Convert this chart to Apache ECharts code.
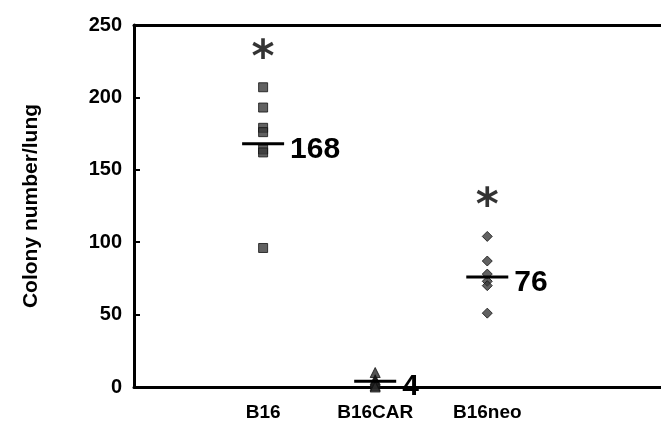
<!DOCTYPE html>
<html><head><meta charset="utf-8">
<script src="https://cdn.jsdelivr.net/npm/echarts@6/dist/echarts.min.js"></script>
<style>html,body{margin:0;padding:0;background:#fff}#c{width:661px;height:440px}</style>
</head><body><div id="c"></div>
<script>
const categories = ['B16', 'B16CAR', 'B16neo'];
const b16Values = [207, 193, 179, 176, 164, 162, 96];
const b16carValues = [10, 5, 4, 3, 1, 0];
const b16neoValues = [104, 87, 78, 73, 70, 51];
const medians = [168, 4, 76];
const starValues = [235, null, 133];
const yTicks = [0, 50, 100, 150, 200, 250];

const FONT = 'Liberation Sans, Arial, sans-serif';
const pts = (vals, idx) => vals.map(v => [idx + 1, v]);

const chart = echarts.init(document.getElementById('c'), null, {renderer: 'canvas'});
const xMin = -0.152, xMax = 4.55;
chart.setOption({
  animation: false,
  backgroundColor: '#fff',
  grid: {left: 134, right: 0, top: 25, bottom: 53, containLabel: false, outerBoundsMode: 'none'},
  xAxis: [{
    type: 'value', min: xMin, max: xMax, position: 'bottom',
    axisLine: {show: true, onZero: false, lineStyle: {color: '#000', width: 3}},
    axisTick: {show: false},
    splitLine: {show: false},
    axisLabel: {
      customValues: [1, 2, 3],
      formatter: v => categories[Math.round(v) - 1] || '',
      color: '#000', fontFamily: FONT, fontWeight: 'bold', fontSize: 19, margin: 16
    }
  }, {
    type: 'value', min: xMin, max: xMax, position: 'top',
    axisLine: {show: true, onZero: false, lineStyle: {color: '#000', width: 3}},
    axisTick: {show: false}, axisLabel: {show: false}, splitLine: {show: false}
  }],
  yAxis: {
    type: 'value', min: yTicks[0], max: yTicks[yTicks.length - 1], interval: 50,
    name: 'Colony number/lung', nameLocation: 'middle', nameRotate: 90, nameGap: 92,
    nameTextStyle: {color: '#000', fontFamily: FONT, fontWeight: 'bold', fontSize: 21},
    axisLine: {show: true, onZero: false, lineStyle: {color: '#000', width: 3}},
    axisTick: {show: true, inside: true, length: 6, lineStyle: {color: '#000', width: 2}},
    splitLine: {show: false},
    axisLabel: {color: '#000', fontFamily: FONT, fontWeight: 'bold', fontSize: 20, margin: 12}
  },
  series: [
    {type: 'scatter', data: pts(b16Values, 0), symbol: 'rect', symbolSize: 9,
     itemStyle: {color: '#3a3a3a', borderColor: '#111', borderWidth: 1}},
    {type: 'scatter', data: pts(b16carValues, 1), symbol: 'triangle', symbolSize: 10,
     itemStyle: {color: '#2a2a2a', borderColor: '#111', borderWidth: 1}},
    {type: 'scatter', data: pts(b16neoValues, 2), symbol: 'diamond', symbolSize: 10,
     itemStyle: {color: '#3a3a3a', borderColor: '#111', borderWidth: 1}},
    {type: 'scatter', data: medians.map((m, i) => [i + 1, m]), symbol: 'rect', symbolSize: [42, 3],
     z: 5, itemStyle: {color: '#000', opacity: 1},
     label: {show: true, position: 'right', distance: 0, offset: [6, 6], formatter: p => String(p.value[1]),
             color: '#000', fontFamily: FONT, fontWeight: 'bold', fontSize: 30}},
    {type: 'scatter', data: starValues.map((s, i) => s == null ? null : [i + 1, s]).filter(d => d),
     symbol: 'circle', symbolSize: 2, itemStyle: {color: 'rgba(0,0,0,0)'}, z: 6,
     label: {show: true, position: 'inside', formatter: '*', color: '#000',
             fontFamily: 'DejaVu Sans, sans-serif', fontWeight: 'bold', fontSize: 44, offset: [0, 13]}}
  ]
});
</script></body></html>
